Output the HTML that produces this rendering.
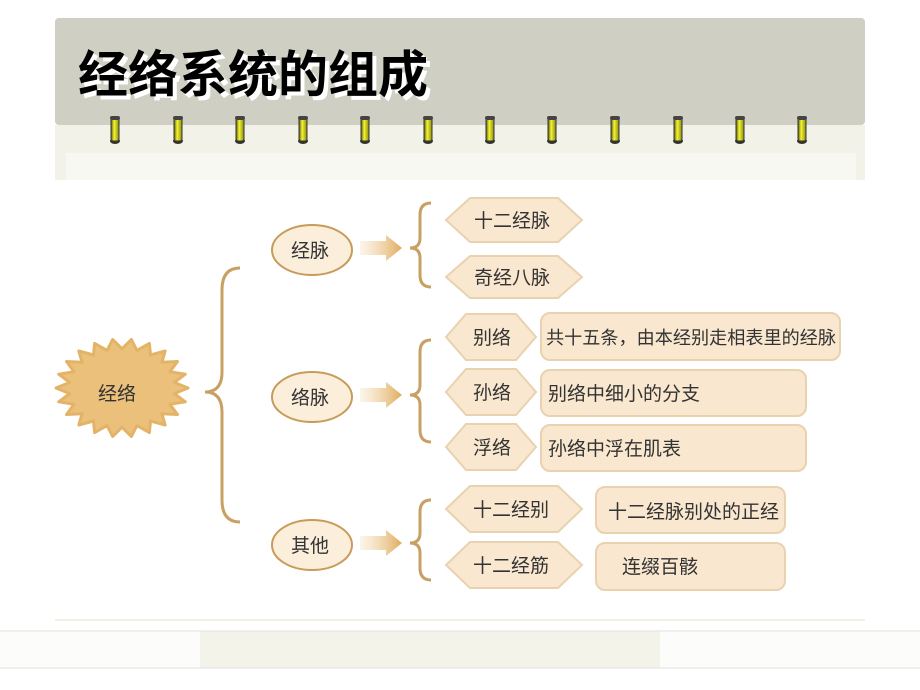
<!DOCTYPE html>
<html><head><meta charset="utf-8"><style>
html,body{margin:0;padding:0;background:#fff;}
svg{display:block;}
text{font-family:"Liberation Sans","Noto Sans CJK SC",sans-serif;}
</style></head><body>
<svg id="s" width="920" height="690" viewBox="0 0 920 690" xmlns="http://www.w3.org/2000/svg">
<defs>
<linearGradient id="ag" x1="0" x2="1"><stop offset="0" stop-color="#f3dcb4" stop-opacity="0.3"/><stop offset="1" stop-color="#e0aa5a"/></linearGradient>
<linearGradient id="rg" x1="0" x2="1"><stop offset="0" stop-color="#5a5a10"/><stop offset="0.4" stop-color="#f4f430"/><stop offset="1" stop-color="#8a8a10"/></linearGradient>
</defs>
<rect x="0" y="0" width="920" height="690" fill="#fff"/>
<rect x="55" y="125" width="810" height="55" fill="#f2f2e8"/>
<rect x="66" y="153" width="790" height="27" fill="#f8f8f2"/>
<rect x="55" y="18" width="810" height="107" rx="4" fill="#cfcfc3"/>
<text x="80" y="94" font-size="50" font-weight="bold" fill="#fff" transform="translate(2,2)">经络系统的组成</text>
<text x="78" y="92" font-size="50" font-weight="bold" fill="#000">经络系统的组成</text>
<g id="rings"></g>
<line x1="55" y1="620" x2="865" y2="620" stroke="#f2f2e4" stroke-width="2"/>
<rect x="0" y="631" width="920" height="37" fill="#fcfcfa"/>
<rect x="200" y="631" width="460" height="37" fill="#f4f3ea"/>
<line x1="0" y1="631" x2="920" y2="631" stroke="#e2e2e2"/>
<line x1="0" y1="668" x2="920" y2="668" stroke="#e2e2e2"/>

<polygon id="star" fill="#ebc07a" stroke="#e3b468" stroke-linejoin="round" stroke-width="3"/>
<text x="117" y="400" font-size="19" text-anchor="middle" fill="#333">经络</text>

<path d="M240 268 Q222 268 222 290 L222 372 Q222 392 205 392 Q222 392 222 412 L222 500 Q222 522 240 522" fill="none" stroke="#c9a064" stroke-width="3"/>
<path d="M431 203 Q420 203 420 215 L420 238 Q420 248 410 248 Q420 248 420 258 L420 275 Q420 287 431 287" fill="none" stroke="#c9a064" stroke-width="3"/>
<path d="M431 340 Q420 340 420 352 L420 385 Q420 395 410 395 Q420 395 420 405 L420 430 Q420 442 431 442" fill="none" stroke="#c9a064" stroke-width="3"/>
<path d="M431 500 Q420 500 420 512 L420 533 Q420 543 410 543 Q420 543 420 553 L420 568 Q420 580 431 580" fill="none" stroke="#c9a064" stroke-width="3"/>

<g fill="#fbeedb" stroke="#c79c5a" stroke-width="2">
<ellipse cx="312" cy="250" rx="40" ry="25"/>
<ellipse cx="312" cy="397" rx="40" ry="25"/>
<ellipse cx="312" cy="545" rx="40" ry="25"/>
</g>
<g font-size="19" text-anchor="middle" fill="#333">
<text x="310" y="257">经脉</text><text x="310" y="404">络脉</text><text x="310" y="552">其他</text>
</g>
<g fill="url(#ag)">
<path d="M360 241 L386 241 L386 235 L402 248 L386 261 L386 255 L360 255Z"/>
<path d="M360 388 L386 388 L386 382 L402 395 L386 408 L386 402 L360 402Z"/>
<path d="M360 536 L386 536 L386 530 L402 543 L386 556 L386 550 L360 550Z"/>
</g>

<g fill="#f9e7cf" stroke="#e8d2b0" stroke-width="2">
<polygon points="446,220 470,198 558,198 582,220 558,242 470,242"/>
<polygon points="446,277 470,256 558,256 582,277 558,298 470,298"/>
<polygon points="446,337 466,314 516,314 536,337 516,360 466,360"/>
<polygon points="446,392 466,369 516,369 536,392 516,415 466,415"/>
<polygon points="446,447 466,424 516,424 536,447 516,470 466,470"/>
<polygon points="446,509 470,486 558,486 582,509 558,532 470,532"/>
<polygon points="446,565 470,542 558,542 582,565 558,588 470,588"/>
<rect x="541" y="313" width="299" height="47" rx="9"/>
<rect x="541" y="370" width="265" height="46" rx="9"/>
<rect x="541" y="425" width="265" height="46" rx="9"/>
<rect x="596" y="487" width="189" height="46" rx="9"/>
<rect x="596" y="543" width="189" height="47" rx="9"/>
</g>
<g font-size="19" fill="#333">
<text x="474" y="227">十二经脉</text>
<text x="474" y="284">奇经八脉</text>
<text x="473" y="344">别络</text>
<text x="473" y="399">孙络</text>
<text x="473" y="454">浮络</text>
<text x="473" y="516">十二经别</text>
<text x="473" y="572">十二经筋</text>
<text x="546" y="344" font-size="18" textLength="290" lengthAdjust="spacingAndGlyphs">共十五条，由本经别走相表里的经脉</text>
<text x="548" y="400">别络中细小的分支</text>
<text x="548" y="455">孙络中浮在肌表</text>
<text x="608" y="518">十二经脉别处的正经</text>
<text x="622" y="573">连缀百骸</text>
</g>
</svg>
<script>
var pts=[],n=22,cx=122,cy=388;
for(var i=0;i<n*2;i++){var a=i*Math.PI/n,r=(i%2==0)?1:0.8;pts.push((cx+66*r*Math.cos(a)).toFixed(1)+","+(cy+49*r*Math.sin(a)).toFixed(1));}
document.getElementById('star').setAttribute('points',pts.join(' '));
var g=document.getElementById('rings'),xs=[115,178,240,303,365,428,490,552,615,678,740,802],h='';
xs.forEach(function(x){h+='<ellipse cx="'+x+'" cy="141" rx="5" ry="3" fill="#333"/><rect x="'+(x-4)+'" y="118" width="8" height="23" rx="2" fill="url(#rg)" stroke="#333" stroke-width="1"/><rect x="'+(x-5)+'" y="116" width="10" height="4" rx="2" fill="#444"/>';});
g.innerHTML=h;
</script>
</body></html>
